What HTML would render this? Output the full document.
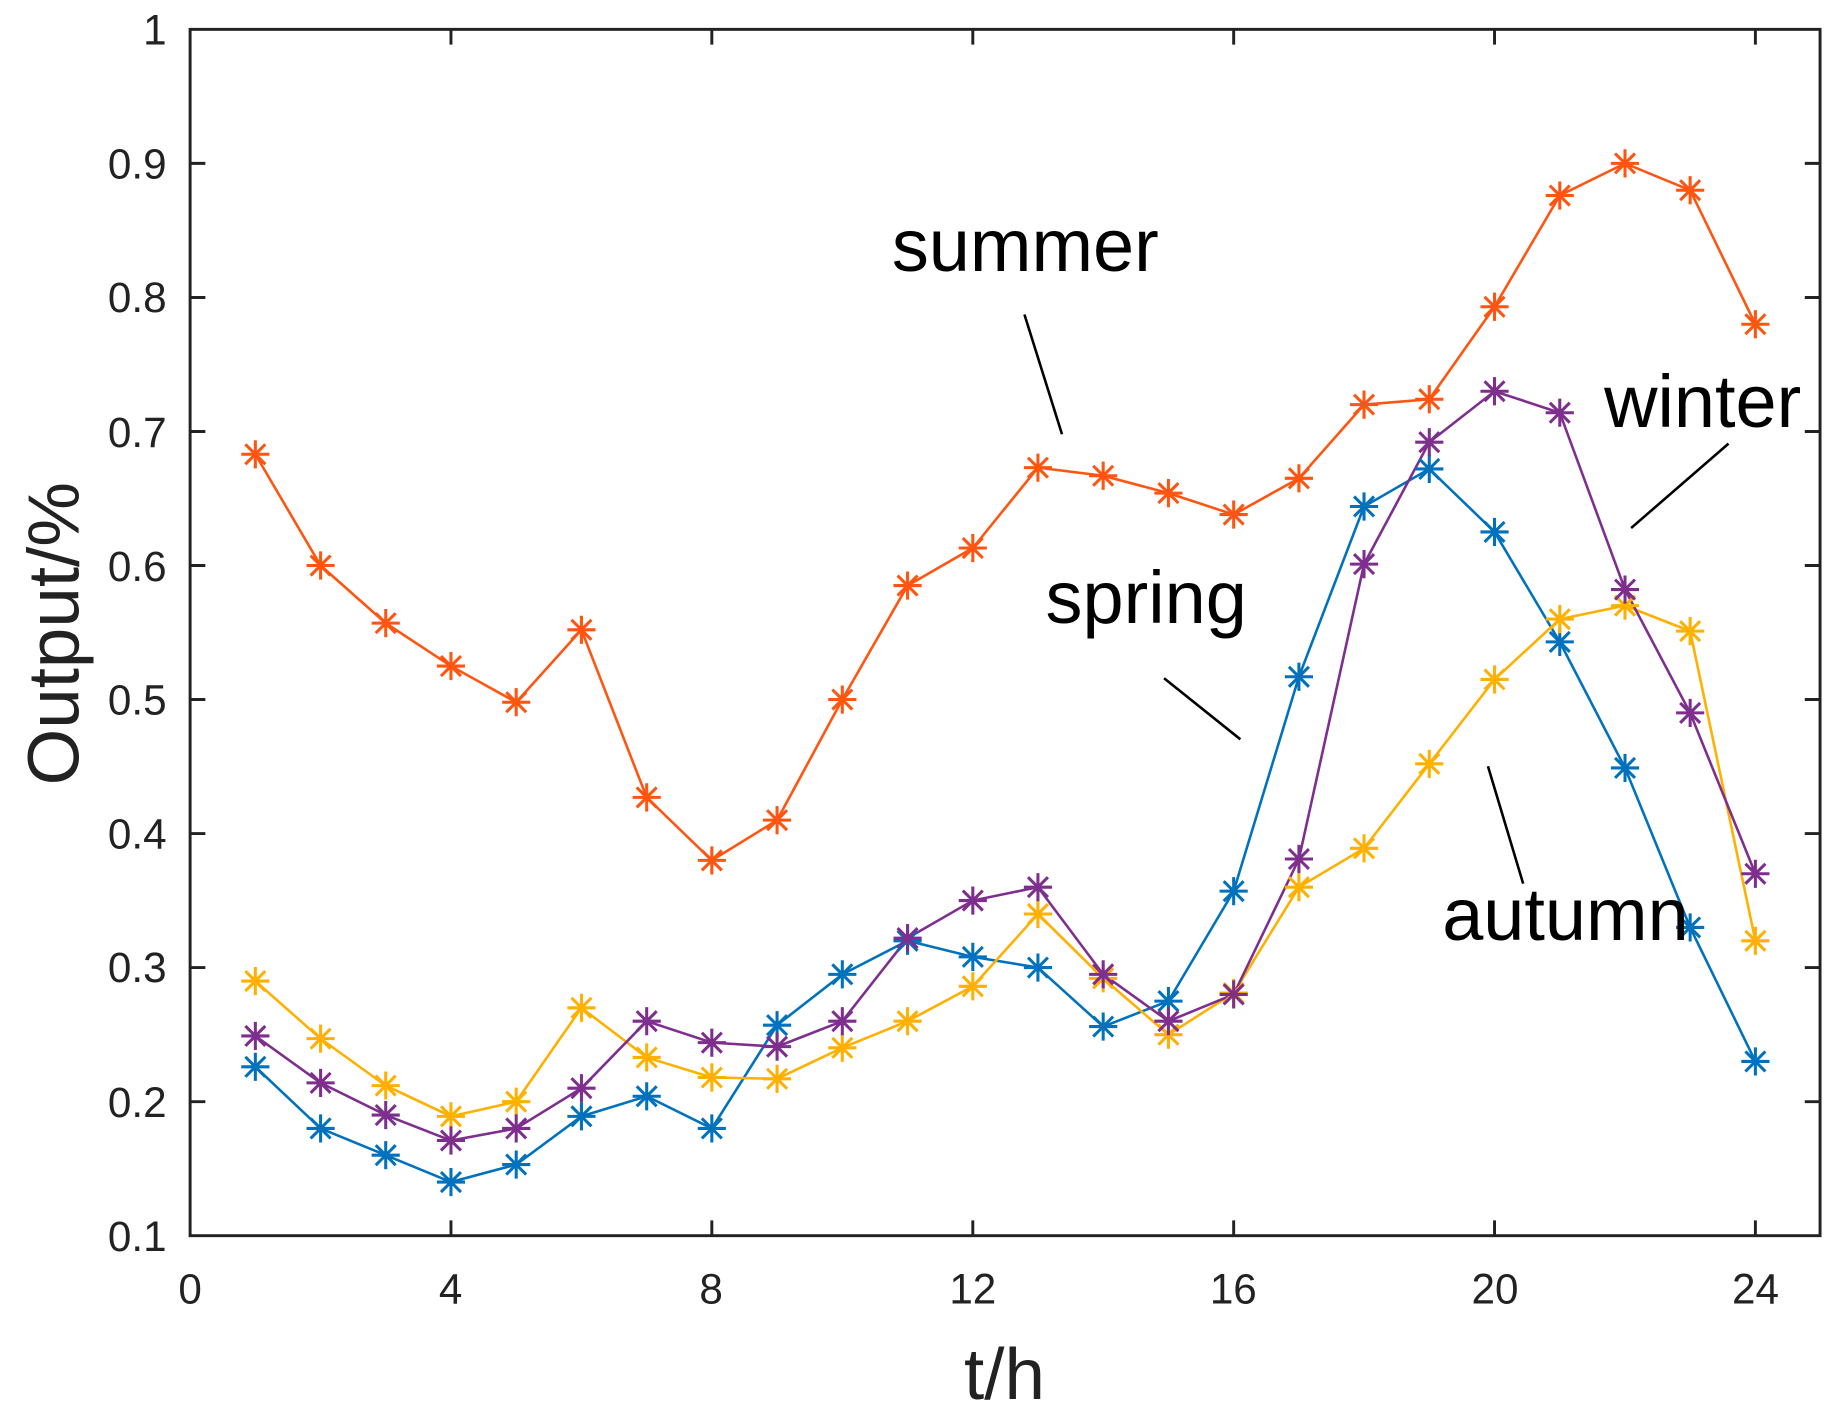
<!DOCTYPE html>
<html><head><meta charset="utf-8"><style>html,body{margin:0;padding:0;background:#fff}svg{display:block}</style></head>
<body>
<svg width="1840" height="1419" viewBox="0 0 1568 1209.2" xmlns="http://www.w3.org/2000/svg" xmlns:xlink="http://www.w3.org/1999/xlink" font-family="Liberation Sans, Arial, sans-serif">
<defs><path id="m" d="M-12 0H12M0-12V12M-8.5-8.5L8.5 8.5M-8.5 8.5L8.5-8.5" fill="none" stroke-width="2.6"/></defs>
<rect width="1568" height="1210" fill="#fff"/>
<g fill="none" stroke-width="2.2">
<polyline stroke="#0072BD" points="217.6,909.1 273.2,961.6 328.7,984.4 384.3,1007.3 439.9,992.4 495.5,951.3 551.1,934.2 606.6,961.6 662.2,873.6 717.8,830.3 773.4,801.7 829,815.4 884.5,824.5 940.1,874.8 995.7,853.1 1051.3,759.4 1106.9,576.7 1162.4,431.6 1218,399.6 1273.6,453.3 1329.2,547 1384.8,654.4 1440.3,790.3 1495.9,904.5"/>
<polyline stroke="#FFB000" points="217.6,836 273.2,885.1 328.7,925.1 384.3,951.3 439.9,938.8 495.5,858.8 551.1,901.1 606.6,918.2 662.2,919.3 717.8,892.9 773.4,870.2 829,840.5 884.5,778.9 940.1,833.7 995.7,881.7 1051.3,846.2 1106.9,756 1162.4,722.9 1218,650.9 1273.6,579 1329.2,527.6 1384.8,516.1 1440.3,537.8 1495.9,801.7"/>
<polyline stroke="#7E2F8E" points="217.6,882.8 273.2,922.8 328.7,950.2 384.3,971.9 439.9,961.6 495.5,927.3 551.1,870.2 606.6,888.5 662.2,891.9 717.8,870.2 773.4,799.4 829,767.4 884.5,756 940.1,830.3 995.7,870.2 1051.3,847.4 1106.9,732 1162.4,480.7 1218,376.8 1273.6,333.4 1329.2,351.7 1384.8,502.4 1440.3,607.5 1495.9,744.6"/>
<polyline stroke="#FF5510" points="217.6,387.1 273.2,481.9 328.7,531 384.3,567.6 439.9,598.4 495.5,536.7 551.1,679.5 606.6,733.2 662.2,698.9 717.8,596.1 773.4,499 829,467 884.5,398.5 940.1,405.4 995.7,420.2 1051.3,438.5 1106.9,407.6 1162.4,344.8 1218,340.2 1273.6,261.4 1329.2,166.6 1384.8,139.2 1440.3,162.1 1495.9,276.3"/>
</g>
<g stroke="#0072BD">
<use xlink:href="#m" x="217.6" y="909.1"/><use xlink:href="#m" x="273.2" y="961.6"/><use xlink:href="#m" x="328.7" y="984.4"/><use xlink:href="#m" x="384.3" y="1007.3"/><use xlink:href="#m" x="439.9" y="992.4"/><use xlink:href="#m" x="495.5" y="951.3"/><use xlink:href="#m" x="551.1" y="934.2"/><use xlink:href="#m" x="606.6" y="961.6"/><use xlink:href="#m" x="662.2" y="873.6"/><use xlink:href="#m" x="717.8" y="830.3"/><use xlink:href="#m" x="773.4" y="801.7"/><use xlink:href="#m" x="829" y="815.4"/><use xlink:href="#m" x="884.5" y="824.5"/><use xlink:href="#m" x="940.1" y="874.8"/><use xlink:href="#m" x="995.7" y="853.1"/><use xlink:href="#m" x="1051.3" y="759.4"/><use xlink:href="#m" x="1106.9" y="576.7"/><use xlink:href="#m" x="1162.4" y="431.6"/><use xlink:href="#m" x="1218" y="399.6"/><use xlink:href="#m" x="1273.6" y="453.3"/><use xlink:href="#m" x="1329.2" y="547"/><use xlink:href="#m" x="1384.8" y="654.4"/><use xlink:href="#m" x="1440.3" y="790.3"/><use xlink:href="#m" x="1495.9" y="904.5"/>
</g>
<g stroke="#FFB000">
<use xlink:href="#m" x="217.6" y="836"/><use xlink:href="#m" x="273.2" y="885.1"/><use xlink:href="#m" x="328.7" y="925.1"/><use xlink:href="#m" x="384.3" y="951.3"/><use xlink:href="#m" x="439.9" y="938.8"/><use xlink:href="#m" x="495.5" y="858.8"/><use xlink:href="#m" x="551.1" y="901.1"/><use xlink:href="#m" x="606.6" y="918.2"/><use xlink:href="#m" x="662.2" y="919.3"/><use xlink:href="#m" x="717.8" y="892.9"/><use xlink:href="#m" x="773.4" y="870.2"/><use xlink:href="#m" x="829" y="840.5"/><use xlink:href="#m" x="884.5" y="778.9"/><use xlink:href="#m" x="940.1" y="833.7"/><use xlink:href="#m" x="995.7" y="881.7"/><use xlink:href="#m" x="1051.3" y="846.2"/><use xlink:href="#m" x="1106.9" y="756"/><use xlink:href="#m" x="1162.4" y="722.9"/><use xlink:href="#m" x="1218" y="650.9"/><use xlink:href="#m" x="1273.6" y="579"/><use xlink:href="#m" x="1329.2" y="527.6"/><use xlink:href="#m" x="1384.8" y="516.1"/><use xlink:href="#m" x="1440.3" y="537.8"/><use xlink:href="#m" x="1495.9" y="801.7"/>
</g>
<g stroke="#7E2F8E">
<use xlink:href="#m" x="217.6" y="882.8"/><use xlink:href="#m" x="273.2" y="922.8"/><use xlink:href="#m" x="328.7" y="950.2"/><use xlink:href="#m" x="384.3" y="971.9"/><use xlink:href="#m" x="439.9" y="961.6"/><use xlink:href="#m" x="495.5" y="927.3"/><use xlink:href="#m" x="551.1" y="870.2"/><use xlink:href="#m" x="606.6" y="888.5"/><use xlink:href="#m" x="662.2" y="891.9"/><use xlink:href="#m" x="717.8" y="870.2"/><use xlink:href="#m" x="773.4" y="799.4"/><use xlink:href="#m" x="829" y="767.4"/><use xlink:href="#m" x="884.5" y="756"/><use xlink:href="#m" x="940.1" y="830.3"/><use xlink:href="#m" x="995.7" y="870.2"/><use xlink:href="#m" x="1051.3" y="847.4"/><use xlink:href="#m" x="1106.9" y="732"/><use xlink:href="#m" x="1162.4" y="480.7"/><use xlink:href="#m" x="1218" y="376.8"/><use xlink:href="#m" x="1273.6" y="333.4"/><use xlink:href="#m" x="1329.2" y="351.7"/><use xlink:href="#m" x="1384.8" y="502.4"/><use xlink:href="#m" x="1440.3" y="607.5"/><use xlink:href="#m" x="1495.9" y="744.6"/>
</g>
<g stroke="#FF5510">
<use xlink:href="#m" x="217.6" y="387.1"/><use xlink:href="#m" x="273.2" y="481.9"/><use xlink:href="#m" x="328.7" y="531"/><use xlink:href="#m" x="384.3" y="567.6"/><use xlink:href="#m" x="439.9" y="598.4"/><use xlink:href="#m" x="495.5" y="536.7"/><use xlink:href="#m" x="551.1" y="679.5"/><use xlink:href="#m" x="606.6" y="733.2"/><use xlink:href="#m" x="662.2" y="698.9"/><use xlink:href="#m" x="717.8" y="596.1"/><use xlink:href="#m" x="773.4" y="499"/><use xlink:href="#m" x="829" y="467"/><use xlink:href="#m" x="884.5" y="398.5"/><use xlink:href="#m" x="940.1" y="405.4"/><use xlink:href="#m" x="995.7" y="420.2"/><use xlink:href="#m" x="1051.3" y="438.5"/><use xlink:href="#m" x="1106.9" y="407.6"/><use xlink:href="#m" x="1162.4" y="344.8"/><use xlink:href="#m" x="1218" y="340.2"/><use xlink:href="#m" x="1273.6" y="261.4"/><use xlink:href="#m" x="1329.2" y="166.6"/><use xlink:href="#m" x="1384.8" y="139.2"/><use xlink:href="#m" x="1440.3" y="162.1"/><use xlink:href="#m" x="1495.9" y="276.3"/>
</g>
<rect x="162" y="25" width="1389" height="1028" fill="none" stroke="#222" stroke-width="2.5"/>
<path stroke="#222" stroke-width="2.5" fill="none" d="M384.3 1053V1040M606.6 1053V1040M829 1053V1040M1051.3 1053V1040M1273.6 1053V1040M1495.9 1053V1040M384.3 25V38M606.6 25V38M829 25V38M1051.3 25V38M1273.6 25V38M1495.9 25V38M162 938.8H175M162 824.5H175M162 710.3H175M162 596.1H175M162 481.9H175M162 367.7H175M162 253.5H175M162 139.2H175M1551 938.8H1538M1551 824.5H1538M1551 710.3H1538M1551 596.1H1538M1551 481.9H1538M1551 367.7H1538M1551 253.5H1538M1551 139.2H1538"/>
<g font-size="36" fill="#222">
<g text-anchor="end">
<text x="142" y="1066">0.1</text><text x="142" y="952">0.2</text><text x="142" y="837">0.3</text><text x="142" y="723">0.4</text><text x="142" y="609">0.5</text><text x="142" y="495">0.6</text><text x="142" y="381">0.7</text><text x="142" y="266">0.8</text><text x="142" y="152">0.9</text><text x="142" y="38">1</text>
</g>
<g text-anchor="middle">
<text x="162" y="1111">0</text><text x="384" y="1111">4</text><text x="606" y="1111">8</text><text x="829" y="1111">12</text><text x="1051" y="1111">16</text><text x="1274" y="1111">20</text><text x="1496" y="1111">24</text>
</g>
</g>
<text x="856" y="1192" font-size="62" text-anchor="middle" fill="#222">t/h</text>
<text transform="translate(67,540) rotate(-90)" font-size="62" text-anchor="middle" fill="#222">Output/%</text>
<g font-size="63" fill="#000">
<text x="760" y="231">summer</text>
<text x="1367" y="364">winter</text>
<text x="891" y="531">spring</text>
<text x="1229" y="801">autumn</text>
</g>
<g stroke="#000" stroke-width="2.2">
<line x1="873" y1="268" x2="905" y2="370"/>
<line x1="992" y1="578" x2="1057" y2="630"/>
<line x1="1473" y1="378" x2="1390" y2="450"/>
<line x1="1268" y1="653" x2="1298" y2="753"/>
</g>
</svg>
</body></html>
